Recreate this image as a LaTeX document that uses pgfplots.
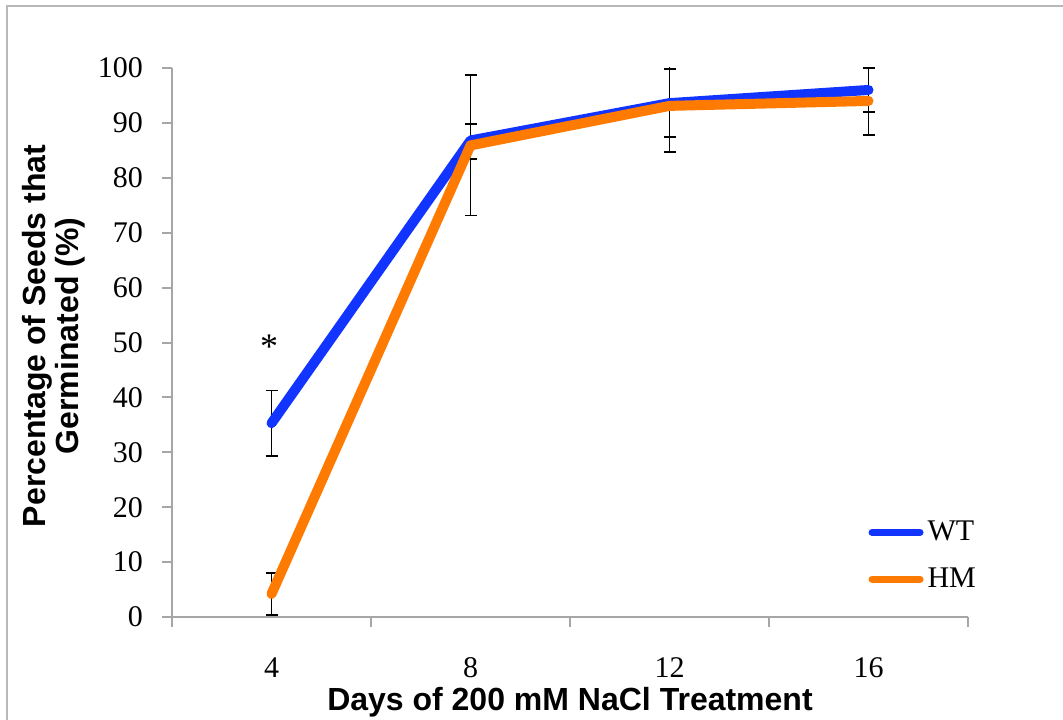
\documentclass[border=0pt]{standalone}
\usepackage{pgfplots}
\pgfplotsset{compat=1.18}
\usepackage{fontspec}
\setmainfont{Liberation Serif}
\newfontfamily\labelfont{Liberation Sans}
\definecolor{wtblue}{RGB}{18,52,255}
\definecolor{hmorange}{RGB}{255,122,0}
\begin{document}
\begin{tikzpicture}[x=1pt,y=1pt]
\useasboundingbox (0,0) rectangle (531.5,359.5);
\draw[black!28, line width=1pt] (3.5,-5) -- (3.5,356.5) -- (540,356.5);
\begin{axis}[
  at={(86pt,51pt)}, anchor=south west,
  scale only axis, width=398pt, height=274.5pt,
  xmin=2, xmax=18, ymin=0, ymax=100,
  axis x line*=bottom, axis y line*=left,
  axis line style={black!35, line width=1pt},
  tick align=outside, major tick length=5pt,
  every tick/.style={black!35, line width=1pt},
  xtick={2,6,10,14,18}, xticklabels={},
  extra x ticks={4,8,12,16}, extra x tick labels={4,8,12,16},
  extra x tick style={major tick length=0pt},
  ytick={0,10,...,100},
  /pgf/number format/assume math mode=true,
  ticklabel style={font=\fontsize{15}{18}\selectfont},
  xticklabel style={anchor=center, yshift=-25.5pt},
  yticklabel style={anchor=east, xshift=-6pt},
  xlabel={Days of 200 mM NaCl Treatment},
  xlabel style={font=\labelfont\bfseries\fontsize{16}{19}\selectfont, at={(axis description cs:0.5,-0.155)}, anchor=center},
  ylabel={Percentage of Seeds that\\Germinated (\%)},
  ylabel style={font=\labelfont\bfseries\fontsize{16}{16.5}\selectfont, align=center, at={(axis description cs:-0.149,0.512)}, anchor=center},
  legend style={draw=none, fill=none, at={(rel axis cs:0.867,0.19)}, anchor=north west, font=\fontsize{15}{18}\selectfont, row sep=8pt},
  legend cell align=left,
  legend image code/.code={\draw[#1, line width=3.5pt, line cap=round] (1pt,0pt) -- (25pt,0pt);},
  clip=true,
]
\addplot[draw=none, mark=none, forget plot,
  error bars/.cd, y dir=both, y explicit,
  error bar style={draw=black, line width=0.75pt},
  error mark options={draw=black, line width=0.75pt, mark size=3pt, rotate=90}]
  coordinates {(4,35.3) +- (0,6.0) (8,86.6) +- (0,3.2) (12,93.6) +- (0,6.2) (16,96.0) +- (0,4.0)};
\addplot[draw=none, mark=none, forget plot,
  error bars/.cd, y dir=both, y explicit,
  error bar style={draw=black, line width=0.75pt},
  error mark options={draw=black, line width=0.75pt, mark size=3pt, rotate=90}]
  coordinates {(4,4.2) +- (0,3.8) (8,85.9) +- (0,12.8) (12,93.1) +- (0,8.4) (16,94.0) +- (0,6.2)};
\addplot[wtblue, line width=5pt, line cap=round, line join=round]
  coordinates {(4,35.3) (8,86.8) (12,93.6) (16,96.0)};
\addlegendentry{WT}
\addplot[hmorange, line width=5pt, line cap=round, line join=round]
  coordinates {(4,4.2) (8,85.9) (12,93.1) (16,94.0)};
\addlegendentry{HM}
\node[font=\fontsize{18}{18}\selectfont, anchor=base] at (axis cs:3.95,47) {*};
\end{axis}
\end{tikzpicture}
\end{document}
